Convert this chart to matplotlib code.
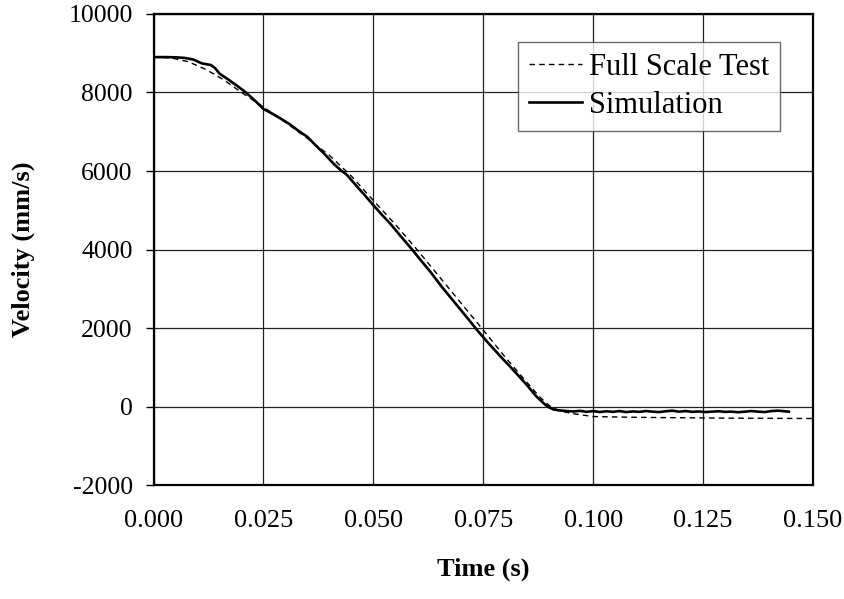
import matplotlib
matplotlib.use("Agg")
import matplotlib.pyplot as plt

plt.rcParams['font.family'] = ['Liberation Serif', 'DejaVu Serif']
plt.rcParams['axes.unicode_minus'] = False

# full scale test (dashed)
test_t = [0.000, 0.004, 0.008, 0.012, 0.016, 0.020, 0.025, 0.030, 0.035, 0.040,
          0.045, 0.050, 0.055, 0.060, 0.065, 0.070, 0.075, 0.080, 0.085, 0.088,
          0.090, 0.092, 0.095, 0.100, 0.110, 0.120, 0.130, 0.140, 0.150]
test_v = [8900, 8880, 8780, 8580, 8320, 8000, 7630, 7240, 6830, 6400,
          5870, 5250, 4640, 3990, 3310, 2630, 1950, 1260, 610, 230,
          30, -90, -170, -250, -270, -280, -290, -295, -300]

# simulation (solid)
sim_t = [0.000, 0.003, 0.005, 0.007, 0.009, 0.010, 0.011, 0.012, 0.013, 0.014,
         0.015, 0.017, 0.019, 0.021, 0.023, 0.025, 0.027, 0.029, 0.031, 0.033,
         0.035, 0.037, 0.039, 0.041, 0.0425, 0.044, 0.046, 0.048, 0.050, 0.052,
         0.054, 0.056, 0.0586, 0.061, 0.063, 0.0655, 0.068, 0.071, 0.0739, 0.076,
         0.079, 0.0822, 0.085, 0.087, 0.0891, 0.090, 0.091, 0.092, 0.094, 0.0955,
         0.097, 0.0985, 0.100, 0.1015, 0.103, 0.1045, 0.106, 0.1075, 0.109, 0.1105,
         0.112, 0.1135, 0.115, 0.1165, 0.118, 0.1195, 0.121, 0.1225, 0.124, 0.1255,
         0.127, 0.1285, 0.130, 0.1315, 0.133, 0.1345, 0.136, 0.1375, 0.139, 0.1405,
         0.142, 0.1435, 0.1445]
sim_v = [8900, 8900, 8895, 8880, 8840, 8790, 8740, 8720, 8700, 8620,
         8480, 8330, 8170, 8000, 7800, 7580, 7460, 7330, 7190, 7020,
         6870, 6640, 6420, 6180, 6030, 5900, 5640, 5390, 5130, 4880,
         4640, 4370, 4030, 3700, 3430, 3060, 2720, 2310, 1910, 1640,
         1270, 890, 540, 270, 50, -20, -70, -90, -110, -120,
         -105, -130, -110, -135, -115, -130, -110, -135, -120, -130,
         -110, -125, -135, -115, -100, -125, -110, -130, -120, -135,
         -125, -115, -130, -125, -140, -125, -110, -125, -135, -110,
         -100, -115, -125]

x_ticks = [0.000, 0.025, 0.050, 0.075, 0.100, 0.125, 0.150]
y_ticks = [-2000, 0, 2000, 4000, 6000, 8000, 10000]

fig = plt.figure(figsize=(8.45, 5.99), dpi=100)
ax = fig.add_axes([0.1817, 0.1898, 0.7805, 0.7870])

ax.plot(test_t, test_v, color='black', lw=1.0, linestyle=(0, (4, 3)), label='Full Scale Test')
ax.plot(sim_t, sim_v, color='black', lw=1.9, label='Simulation')

ax.set_xlim(0, 0.150)
ax.set_ylim(-2000, 10000)
ax.set_xticks(x_ticks)
ax.set_xticklabels(['%.3f' % t for t in x_ticks])
ax.set_yticks(y_ticks)
ax.grid(True, color='#222222', lw=0.9)
ax.set_axisbelow(True)

for s in ax.spines.values():
    s.set_linewidth(1.6)
ax.tick_params(axis='x', length=0, pad=18, labelsize=19)
ax.tick_params(axis='y', length=6, width=1, direction='out', pad=9, labelsize=18.5)

ax.set_xlabel('Time (s)', fontsize=19, fontweight='bold', labelpad=18)
ax.set_ylabel('Velocity (mm/s)', fontsize=19, fontweight='bold', labelpad=24)

leg = ax.legend(loc='upper right', bbox_to_anchor=(0.95, 0.94), borderaxespad=0,
                fontsize=22, frameon=True, fancybox=False, handlelength=1.75,
                handletextpad=0.22, borderpad=0.35, labelspacing=0.3)
leg.get_frame().set_edgecolor('#444444')
leg.get_frame().set_linewidth(1.0)

fig.savefig('out.png', dpi=100)
